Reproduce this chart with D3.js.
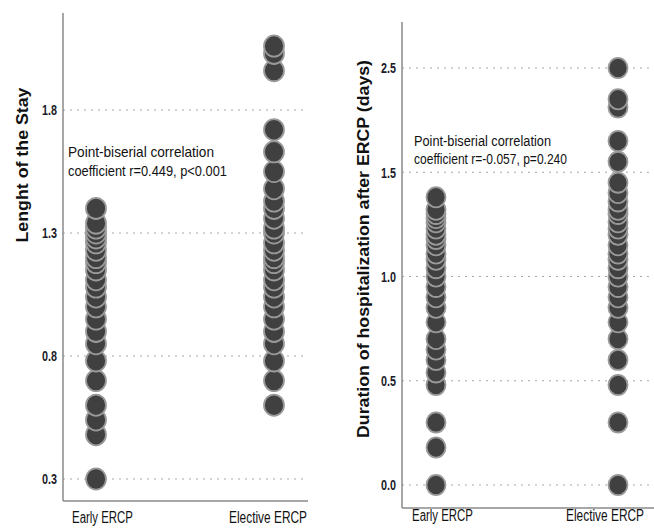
<!DOCTYPE html>
<html>
<head>
<meta charset="utf-8">
<script src="https://cdn.jsdelivr.net/npm/d3@7"></script>
<style>
  html, body { margin: 0; padding: 0; background: #fff; }
  svg { display: block; }
  .narrow { font-family: "Liberation Sans Narrow", "Arial Narrow", "Liberation Sans", Arial, sans-serif; }
  .title { font-family: "Liberation Sans", Arial, sans-serif; font-weight: bold; font-size: 17px; fill: #111; }
</style>
</head>
<body>
<svg id="chart" width="654" height="529"></svg>
<script>
// Groups on the x axis
const groups = ["Early ERCP", "Elective ERCP"];

// Panel A: length of the stay (log-scaled days)
const stayEarly = [0.30, 0.48, 0.54, 0.60, 0.70, 0.78, 0.85, 0.90, 0.95, 1.00, 1.04, 1.08,
                   1.11, 1.15, 1.18, 1.20, 1.23, 1.26, 1.28, 1.30, 1.32, 1.34, 1.40];
const stayElective = [0.60, 0.70, 0.78, 0.85, 0.90, 0.95, 1.00, 1.04, 1.08, 1.11, 1.15, 1.18,
                      1.20, 1.23, 1.26, 1.30, 1.32, 1.36, 1.40, 1.43, 1.48, 1.55, 1.63, 1.72,
                      1.96, 2.03, 2.06];
const stayTicks = [0.3, 0.8, 1.3, 1.8];
const stayTickLabels = ["0.3", "0.8", "1.3", "1.8"];

// Panel B: duration of hospitalization after ERCP (log-scaled days)
const durEarly = [0.00, 0.18, 0.30, 0.48, 0.54, 0.60, 0.65, 0.70, 0.78, 0.85, 0.90, 0.95,
                  1.00, 1.04, 1.08, 1.11, 1.15, 1.18, 1.20, 1.23, 1.26, 1.28, 1.30, 1.32, 1.38];
const durElective = [0.00, 0.30, 0.48, 0.60, 0.70, 0.78, 0.85, 0.90, 0.95, 1.00, 1.04, 1.08,
                     1.11, 1.15, 1.20, 1.23, 1.26, 1.30, 1.32, 1.36, 1.40, 1.45, 1.55, 1.65,
                     1.81, 1.85, 2.00];
const durTicks = [0.0, 0.5, 1.0, 1.5, 2.0];
const durTickLabels = ["0.0", "0.5", "1.0", "1.5", "2.5"];

const svg = d3.select("#chart");

// condensed look: squeeze text into a given width
function squeeze(sel, w) {
  sel.attr("textLength", w).attr("lengthAdjust", "spacingAndGlyphs");
}

function drawPanel(cfg) {
  const g = svg.append("g");
  const y = d3.scaleLinear().domain(cfg.yDomain).range(cfg.yRange);
  const x = d3.scalePoint().domain(groups).range(cfg.xRange);

  // dotted horizontal gridlines
  g.selectAll("line.grid").data(cfg.ticks).join("line")
    .attr("class", "grid")
    .attr("x1", cfg.axisX).attr("x2", cfg.gridEnd)
    .attr("y1", d => y(d)).attr("y2", d => y(d))
    .attr("stroke", "#a8a8a8").attr("stroke-width", 1.2)
    .attr("stroke-dasharray", "2,5");

  // y axis with custom tick labels
  const yAxis = d3.axisLeft(y).tickValues(cfg.ticks)
    .tickFormat((d, i) => cfg.tickLabels[i]).tickSize(0).tickPadding(6);
  const ya = g.append("g").attr("transform", `translate(${cfg.axisX},0)`).call(yAxis);
  ya.select(".domain").remove();
  ya.selectAll("text").attr("class", "narrow")
    .attr("font-size", 15).attr("font-weight", "bold").attr("fill", "#1b1b2a")
    .call(squeeze, 15);

  // axis frame lines
  g.append("line").attr("x1", cfg.axisX).attr("x2", cfg.axisX)
    .attr("y1", cfg.axisTop).attr("y2", cfg.axisBottom)
    .attr("stroke", "#8a8a8a").attr("stroke-width", 1.5);
  g.append("line").attr("x1", cfg.axisX).attr("x2", cfg.axisRight)
    .attr("y1", cfg.axisBottom).attr("y2", cfg.axisBottom)
    .attr("stroke", "#8a8a8a").attr("stroke-width", 1.5);

  // points
  const pts = [];
  cfg.series.forEach((vals, i) => vals.forEach(v => pts.push({ grp: groups[i], v })));
  g.selectAll("ellipse.pt").data(pts).join("ellipse")
    .attr("class", "pt")
    .attr("cx", d => x(d.grp)).attr("cy", d => y(d.v))
    .attr("rx", cfg.r).attr("ry", cfg.r * 1.06)
    .attr("fill", "#404040").attr("stroke", "#9a9a9a").attr("stroke-width", 1.8);

  // category labels (right-aligned at their end positions)
  g.selectAll("text.cat").data(groups).join("text")
    .attr("class", "cat narrow")
    .attr("x", (d, i) => cfg.labelEnd[i]).attr("y", cfg.labelY)
    .attr("text-anchor", "end")
    .attr("font-size", 16).attr("fill", "#111")
    .attr("textLength", (d, i) => cfg.labelW[i]).attr("lengthAdjust", "spacingAndGlyphs")
    .text(d => d);

  // y axis title
  g.append("text").attr("class", "title")
    .attr("transform", `translate(${cfg.titleX},${cfg.titleY}) rotate(-90)`)
    .attr("text-anchor", "middle")
    .call(squeeze, cfg.titleW)
    .text(cfg.title);

  // correlation note
  cfg.note.forEach((line, i) => g.append("text").attr("class", "narrow")
    .attr("x", cfg.noteX).attr("y", cfg.noteY + i * cfg.noteLead)
    .attr("font-size", cfg.noteSize).attr("fill", "#111")
    .call(squeeze, cfg.noteW[i])
    .text(line));
}

drawPanel({
  series: [stayEarly, stayElective],
  yDomain: [0.3, 1.8], yRange: [479, 110],
  ticks: stayTicks, tickLabels: stayTickLabels,
  xRange: [96, 274],
  axisX: 63, axisTop: 13, axisBottom: 501, axisRight: 308, gridEnd: 304,
  r: 10,
  labelEnd: [133, 307], labelW: [61, 78], labelY: 523,
  title: "Lenght of the Stay", titleX: 28, titleY: 165, titleW: 155,
  note: ["Point-biserial correlation", "coefficient r=0.449, p<0.001"],
  noteX: 68, noteY: 157, noteSize: 15, noteLead: 19, noteW: [146, 159]
});

drawPanel({
  series: [durEarly, durElective],
  yDomain: [0, 2], yRange: [485, 68],
  ticks: durTicks, tickLabels: durTickLabels,
  xRange: [436, 618],
  axisX: 402, axisTop: 22, axisBottom: 508, axisRight: 654, gridEnd: 654,
  r: 9.5,
  labelEnd: [473, 644], labelW: [61, 78], labelY: 521,
  title: "Duration of hospitalization after ERCP (days)", titleX: 369, titleY: 249, titleW: 378,
  note: ["Point-biserial correlation", "coefficient r=-0.057, p=0.240"],
  noteX: 414, noteY: 146, noteSize: 14, noteLead: 18, noteW: [137, 153]
});
</script>
</body>
</html>
